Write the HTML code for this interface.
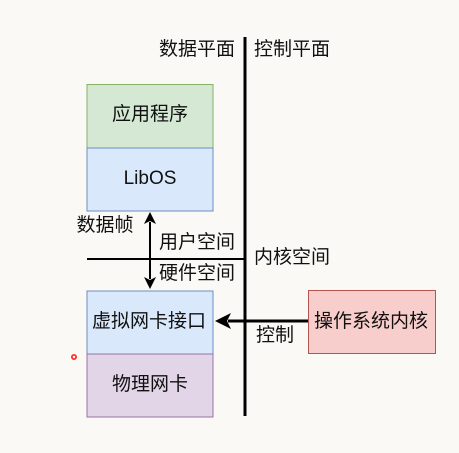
<!DOCTYPE html>
<html><head><meta charset="utf-8"><style>
html,body{margin:0;padding:0;background:#faf9f5;}
svg{display:block;}
text{font-family:"Liberation Sans","Noto Sans CJK SC",sans-serif;font-size:19px;fill:#111;}
</style></head><body>
<svg width="459" height="453" viewBox="0 0 459 453">
<rect width="459" height="453" fill="#faf9f5"/>
<circle cx="74" cy="357" r="3" fill="#f33"/>
<circle cx="74" cy="357" r="1.2" fill="#fff"/>
<line x1="245" y1="37" x2="245" y2="416" stroke="#000" stroke-width="3"/>
<line x1="87" y1="259" x2="245" y2="259" stroke="#000" stroke-width="2"/>
<rect x="87" y="84.5" width="126" height="63.5" fill="#d5e8d4" stroke="#82b366"/>
<rect x="87" y="148" width="126" height="63" fill="#dae8fc" stroke="#6c8ebf"/>
<rect x="87" y="291" width="126" height="63" fill="#dae8fc" stroke="#6c8ebf"/>
<rect x="87" y="354" width="126" height="63" fill="#e1d5e7" stroke="#9673a6"/>
<rect x="308.5" y="290.5" width="127" height="63" fill="#f8cecc" stroke="#b85450"/>
<line x1="150" y1="222" x2="150" y2="279" stroke="#000" stroke-width="2"/>
<polygon points="150,212 144,224 150,221 156,224" fill="#000"/>
<polygon points="150,289 144,277 150,280 156,277" fill="#000"/>
<line x1="228" y1="321" x2="308" y2="321" stroke="#000" stroke-width="3"/>
<polygon points="215,321 231,313 227,321 231,329" fill="#000"/>
<text x="197" y="55" text-anchor="middle">数据平面</text>
<text x="292" y="55" text-anchor="middle">控制平面</text>
<text x="150" y="120" text-anchor="middle">应用程序</text>
<text x="150" y="184" text-anchor="middle">LibOS</text>
<text x="105" y="231" text-anchor="middle">数据帧</text>
<text x="197" y="248" text-anchor="middle">用户空间</text>
<text x="292" y="263" text-anchor="middle">内核空间</text>
<text x="197" y="279" text-anchor="middle">硬件空间</text>
<text x="149" y="327" text-anchor="middle">虚拟网卡接口</text>
<text x="275" y="341" text-anchor="middle">控制</text>
<text x="371" y="327" text-anchor="middle">操作系统内核</text>
<text x="150" y="390" text-anchor="middle">物理网卡</text>
</svg>
</body></html>
